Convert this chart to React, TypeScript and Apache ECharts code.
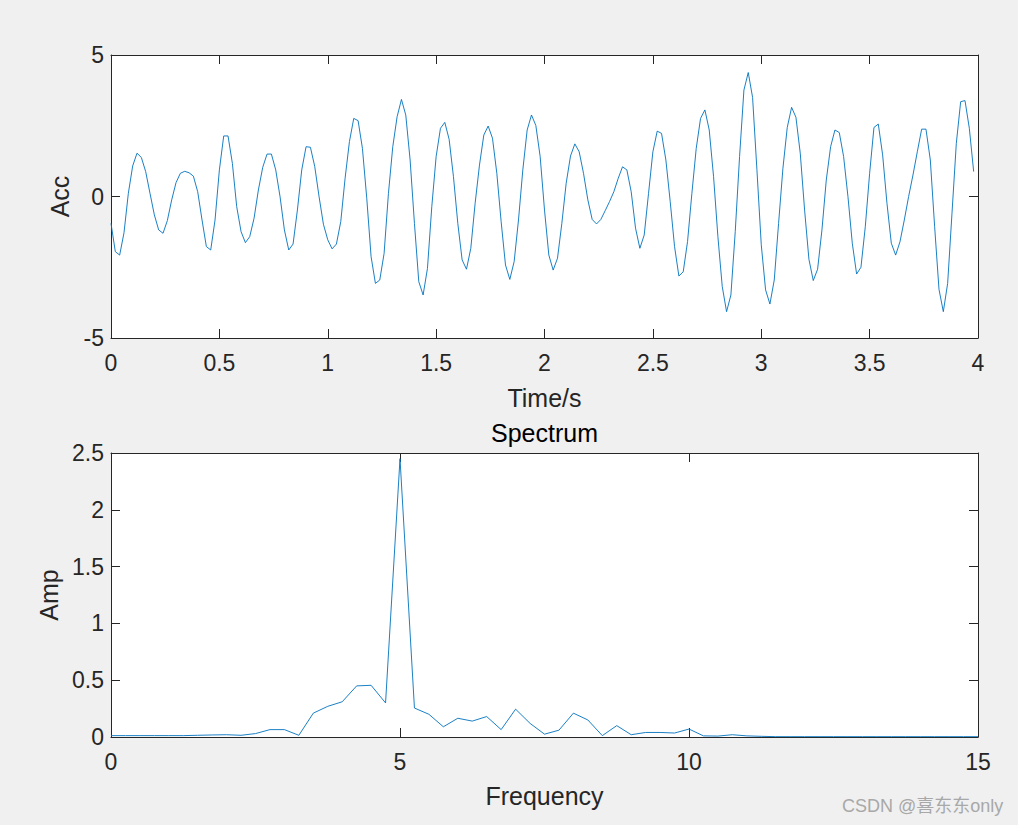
import React, { useEffect, useRef } from "react";
import * as echarts from "echarts";

// ---- Data ----
const sampleRate = 50; // Hz
const accValues: number[] = [
  -0.95, -1.95, -2.07, -1.28, 0.11, 1.08, 1.53, 1.38, 0.88, 0.11,
  -0.65, -1.18, -1.30, -0.85, -0.12, 0.49, 0.82, 0.89, 0.84, 0.72,
  0.17, -0.83, -1.77, -1.89, -0.83, 0.94, 2.14, 2.14, 1.17, -0.36,
  -1.24, -1.63, -1.42, -0.77, 0.23, 1.03, 1.50, 1.50, 0.94, -0.01,
  -1.18, -1.89, -1.68, -0.48, 0.94, 1.76, 1.74, 1.06, -0.01, -0.98,
  -1.53, -1.85, -1.68, -0.89, 0.64, 1.94, 2.76, 2.68, 1.70, -0.06,
  -2.13, -3.07, -2.95, -2.01, 0.11, 1.76, 2.82, 3.43, 2.88, 1.29,
  -0.95, -3.01, -3.48, -2.54, -0.36, 1.41, 2.41, 2.62, 2.02, 0.70,
  -0.95, -2.24, -2.57, -1.83, -0.24, 1.11, 2.17, 2.49, 2.06, 0.82,
  -0.89, -2.42, -2.93, -2.30, -0.83, 0.94, 2.35, 2.88, 2.51, 1.41,
  -0.48, -2.07, -2.60, -2.18, -0.95, 0.47, 1.43, 1.86, 1.58, 0.82,
  -0.12, -0.81, -0.97, -0.81, -0.50, -0.18, 0.17, 0.64, 1.05, 0.94,
  0.17, -1.12, -1.83, -1.36, 0.11, 1.58, 2.31, 2.23, 1.29, -0.18,
  -1.77, -2.81, -2.66, -1.59, 0.11, 1.70, 2.76, 3.06, 2.35, 0.70,
  -1.42, -3.18, -4.07, -3.48, -1.24, 1.41, 3.76, 4.38, 3.50, 0.95,
  -1.70, -3.30, -3.80, -2.95, -0.95, 1.00, 2.44, 3.15, 2.80, 1.53,
  -0.48, -2.22, -2.97, -2.57, -1.18, 0.58, 1.76, 2.35, 2.26, 1.41,
  0.00, -1.65, -2.74, -2.50, -1.07, 0.82, 2.44, 2.56, 1.47, -0.24,
  -1.65, -2.07, -1.60, -0.83, 0.00, 0.76, 1.58, 2.38, 2.38, 1.29,
  -1.07, -3.28, -4.07, -3.07, -0.59, 1.88, 3.35, 3.39, 2.41, 0.88,
];

const freqStep = 0.25; // Hz
const ampValues: number[] = [
  0.012, 0.012, 0.012, 0.012, 0.012, 0.012, 0.015, 0.018, 0.02, 0.015,
  0.03, 0.065, 0.065, 0.015, 0.21, 0.27, 0.31, 0.45, 0.455, 0.30,
  2.45, 0.255, 0.20, 0.09, 0.165, 0.14, 0.18, 0.065, 0.245, 0.12,
  0.025, 0.06, 0.21, 0.15, 0.012, 0.10, 0.02, 0.04, 0.04, 0.035,
  0.07, 0.01, 0.008, 0.02, 0.01, 0.006, 0.003, 0.003, 0.003, 0.003,
  0.003, 0.003, 0.003, 0.003, 0.003, 0.003, 0.003, 0.003, 0.003, 0.003,
  0.003,
];

const timeTicks = { min: 0, max: 4, interval: 0.5 };
const accTicks = { min: -5, max: 5, interval: 5 };
const freqTicks = { min: 0, max: 15, interval: 5 };
const ampTicks = { min: 0, max: 2.5, interval: 0.5 };

const FONT = "'Liberation Sans', Arial, Helvetica, sans-serif";
const AX = "#262626";
const LINE = "#0072BD";

export default function App() {
  const ref = useRef<HTMLDivElement>(null);
  useEffect(() => {
    if (!ref.current) return;
    const chart = echarts.init(ref.current, undefined, { renderer: "svg" });

    const accData = accValues.map((v, i) => [i / sampleRate, v]);
    const ampData = ampValues.map((v, k) => [k * freqStep, v]);

    const tickCommon = {
      show: true,
      inside: true,
      length: 9,
      lineStyle: { color: AX, width: 1 },
    };
    const lineCommon = { show: true, onZero: false, lineStyle: { color: AX, width: 1 } };
    const labelCommon = { color: AX, fontSize: 23, fontFamily: FONT };
    const nameCommon = { color: AX, fontSize: 25, fontFamily: FONT };

    const mkX = (gi: number, t: any, name: string, gap: number) => [
      {
        type: "value",
        gridIndex: gi,
        position: "bottom",
        min: t.min,
        max: t.max,
        interval: t.interval,
        name,
        nameLocation: "middle",
        nameGap: gap,
        nameTextStyle: nameCommon,
        axisLine: lineCommon,
        axisTick: tickCommon,
        axisLabel: { ...labelCommon, margin: 13 },
        splitLine: { show: false },
      },
      {
        type: "value",
        gridIndex: gi,
        position: "top",
        min: t.min,
        max: t.max,
        interval: t.interval,
        axisLine: lineCommon,
        axisTick: tickCommon,
        axisLabel: { show: false },
        splitLine: { show: false },
      },
    ];
    const mkY = (gi: number, t: any, name: string, gap: number) => [
      {
        type: "value",
        gridIndex: gi,
        position: "left",
        min: t.min,
        max: t.max,
        interval: t.interval,
        name,
        nameLocation: "middle",
        nameGap: gap,
        nameRotate: 90,
        nameTextStyle: nameCommon,
        axisLine: lineCommon,
        axisTick: tickCommon,
        axisLabel: { ...labelCommon, margin: 7 },
        splitLine: { show: false },
      },
      {
        type: "value",
        gridIndex: gi,
        position: "right",
        min: t.min,
        max: t.max,
        interval: t.interval,
        axisLine: lineCommon,
        axisTick: tickCommon,
        axisLabel: { show: false },
        splitLine: { show: false },
      },
    ];

    chart.setOption({
      animation: false,
      backgroundColor: "#f0f0f0",
      grid: [
        { left: 111, top: 55, width: 867, height: 283, show: true, backgroundColor: "#ffffff", borderWidth: 0 },
        { left: 111, top: 453, width: 867, height: 284, show: true, backgroundColor: "#ffffff", borderWidth: 0 },
      ],
      xAxis: [...mkX(0, timeTicks, "Time/s", 47), ...mkX(1, freqTicks, "Frequency", 46)],
      yAxis: [...mkY(0, accTicks, "Acc", 36), ...mkY(1, ampTicks, "Amp", 50)],
      series: [
        {
          type: "line",
          xAxisIndex: 0,
          yAxisIndex: 0,
          data: accData,
          showSymbol: false,
          symbol: "none",
          lineStyle: { color: LINE, width: 0.9 },
          clip: true,
        },
        {
          type: "line",
          xAxisIndex: 2,
          yAxisIndex: 2,
          data: ampData,
          showSymbol: false,
          symbol: "none",
          lineStyle: { color: LINE, width: 0.9 },
          clip: true,
        },
      ],
      graphic: [
        {
          type: "text",
          x: 544.5,
          y: 433,
          style: {
            text: "Spectrum",
            fill: "#000000",
            font: `25px ${FONT}`,
            align: "center",
            verticalAlign: "middle",
          },
        },
        {
          type: "text",
          x: 842,
          y: 806,
          style: {
            text: "CSDN @喜东东only",
            fill: "#a8a8a8",
            font: `18px 'Liberation Sans', 'Noto Sans CJK SC', sans-serif`,
            align: "left",
            verticalAlign: "middle",
          },
        },
      ],
    });
    return () => chart.dispose();
  }, []);

  return (
    <div
      ref={ref}
      style={{ position: "absolute", left: 0, top: 0, width: 1018, height: 825 }}
    />
  );
}
